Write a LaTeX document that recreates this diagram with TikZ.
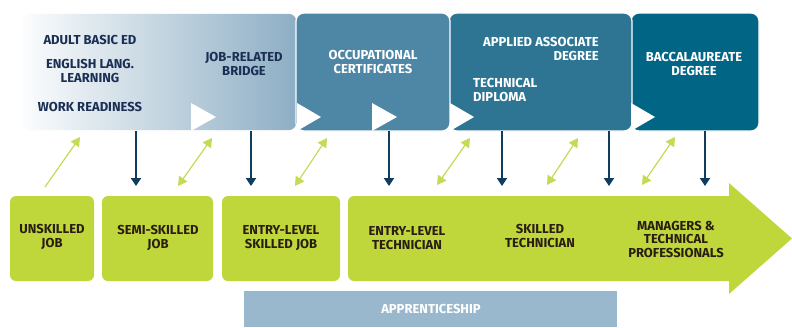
\documentclass[tikz,border=0pt]{standalone}
\usepackage{fontspec}
\setmainfont{Fira Sans}
\usetikzlibrary{arrows.meta}
\definecolor{navy}{HTML}{0E3D5F}
\definecolor{txtnavy}{HTML}{1B2F55}
\definecolor{gradR}{HTML}{8DAEC4}
\definecolor{boxB}{HTML}{4E87A6}
\definecolor{boxC}{HTML}{2D7593}
\definecolor{boxD}{HTML}{016686}
\definecolor{lime}{HTML}{C0D73C}
\definecolor{limearrow}{HTML}{C3DB55}
\definecolor{jobtxt}{HTML}{2A1E12}
\definecolor{appr}{HTML}{9AB8CD}
\begin{document}
\begin{tikzpicture}[x=1pt,y=-1pt,
  lbl/.style={font=\bfseries\fontsize{13}{13.5}\selectfont, align=center, inner sep=0pt},
  toplbl/.style={lbl, text=white},
  darklbl/.style={lbl, text=txtnavy},
  joblbl/.style={lbl, text=jobtxt},
  topbox/.style={draw=white, line width=1.2pt, rounded corners=8pt},
  jobbox/.style={fill=lime, rounded corners=6pt},
  playtri/.style={fill=white},
  down/.style={navy, line width=2pt, -{Triangle[width=10pt,length=8pt]}},
  link/.style={limearrow, line width=1.2pt, {Triangle[width=10pt,length=9pt]}-{Triangle[width=10pt,length=9pt]}},
  uplink/.style={limearrow, line width=1.2pt, -{Triangle[width=10pt,length=9pt]}}
]
\useasboundingbox (0,0) rectangle (792,327);

% top boxes
\shade[topbox, left color=white!97!gradR, right color=gradR] (22,13) rectangle (297,131);
\draw[topbox] (22,13) rectangle (297,131);
\filldraw[topbox, fill=boxD] (631,13) rectangle (759,131);
\filldraw[topbox, fill=boxC] (449,13) rectangle (632,131);
\filldraw[topbox, fill=boxB] (296,13) rectangle (450,131);

% play triangles
\fill[playtri] (191,103) -- (216,117) -- (191,131) -- cycle;
\fill[playtri] (297,103) -- (321,117) -- (297,131) -- cycle;
\fill[playtri] (372,103) -- (397,117) -- (372,131) -- cycle;
\fill[playtri] (450,103) -- (474,117) -- (450,131) -- cycle;
\fill[playtri] (631,103) -- (655,117) -- (631,131) -- cycle;

% top labels
\node[darklbl] (abe) at (90,40) {ADULT BASIC ED};
\node[darklbl] (ell) at (90,71) {ENGLISH LANG.\\LEARNING};
\node[darklbl] (wr) at (90,107) {WORK READINESS};
\node[darklbl] (jrb) at (244,64) {JOB-RELATED\\BRIDGE};
\node[toplbl] (occ) at (373,62) {OCCUPATIONAL\\CERTIFICATES};
\node[toplbl, align=right, anchor=east] (aad) at (599,49) {APPLIED ASSOCIATE\\DEGREE};
\node[toplbl, align=left, anchor=west] (td) at (473,90) {TECHNICAL\\DIPLOMA};
\node[toplbl] (bac) at (694,64) {BACCALAUREATE\\DEGREE};

% lower boxes
\fill[jobbox] (10,196) rectangle (94,281);
\fill[jobbox] (102,196) rectangle (213,281);
\fill[jobbox] (222,196) rectangle (340,281);
\fill[lime] (348,202) [rounded corners=6pt] -- (348,196) [sharp corners] -- (729,196) -- (729,183) -- (792,238.5) -- (729,294) -- (729,281) [rounded corners=6pt] -- (348,281) [sharp corners] -- (348,202) -- cycle;

\fill[appr] (244,291) rectangle (617,327);
\node[toplbl] (app) at (431,309) {APPRENTICESHIP};

\node[joblbl] (j1) at (52,237) {UNSKILLED\\JOB};
\node[joblbl] (j2) at (158,238) {SEMI-SKILLED\\JOB};
\node[joblbl] (j3) at (281,238) {ENTRY-LEVEL\\SKILLED JOB};
\node[joblbl] (j4) at (407,238) {ENTRY-LEVEL\\TECHNICIAN};
\node[joblbl] (j5) at (540,236) {SKILLED\\TECHNICIAN};
\node[joblbl] (j6) at (676,239) {MANAGERS \&\\TECHNICAL\\PROFESSIONALS};

% arrow end points
\foreach \n/\x in {1/136,2/251,3/389,4/502,5/609,6/705}{
  \coordinate (ds\n) at (\x,131);
  \coordinate (de\n) at (\x,186);
}
\foreach \n in {1,...,6} \draw[down] (ds\n) -- (de\n);

\coordinate (ga0) at (45,187);  \coordinate (gb0) at (80,137);
\coordinate (ga1) at (178,186); \coordinate (gb1) at (212,138);
\coordinate (ga2) at (295,186); \coordinate (gb2) at (327,138);
\coordinate (ga3) at (437,185); \coordinate (gb3) at (470,138);
\coordinate (ga4) at (547,185); \coordinate (gb4) at (578,138);
\coordinate (ga5) at (642,185); \coordinate (gb5) at (675,137);
\draw[uplink] (ga0) -- (gb0);
\foreach \n in {1,...,5} \draw[link] (ga\n) -- (gb\n);
\end{tikzpicture}
\end{document}
